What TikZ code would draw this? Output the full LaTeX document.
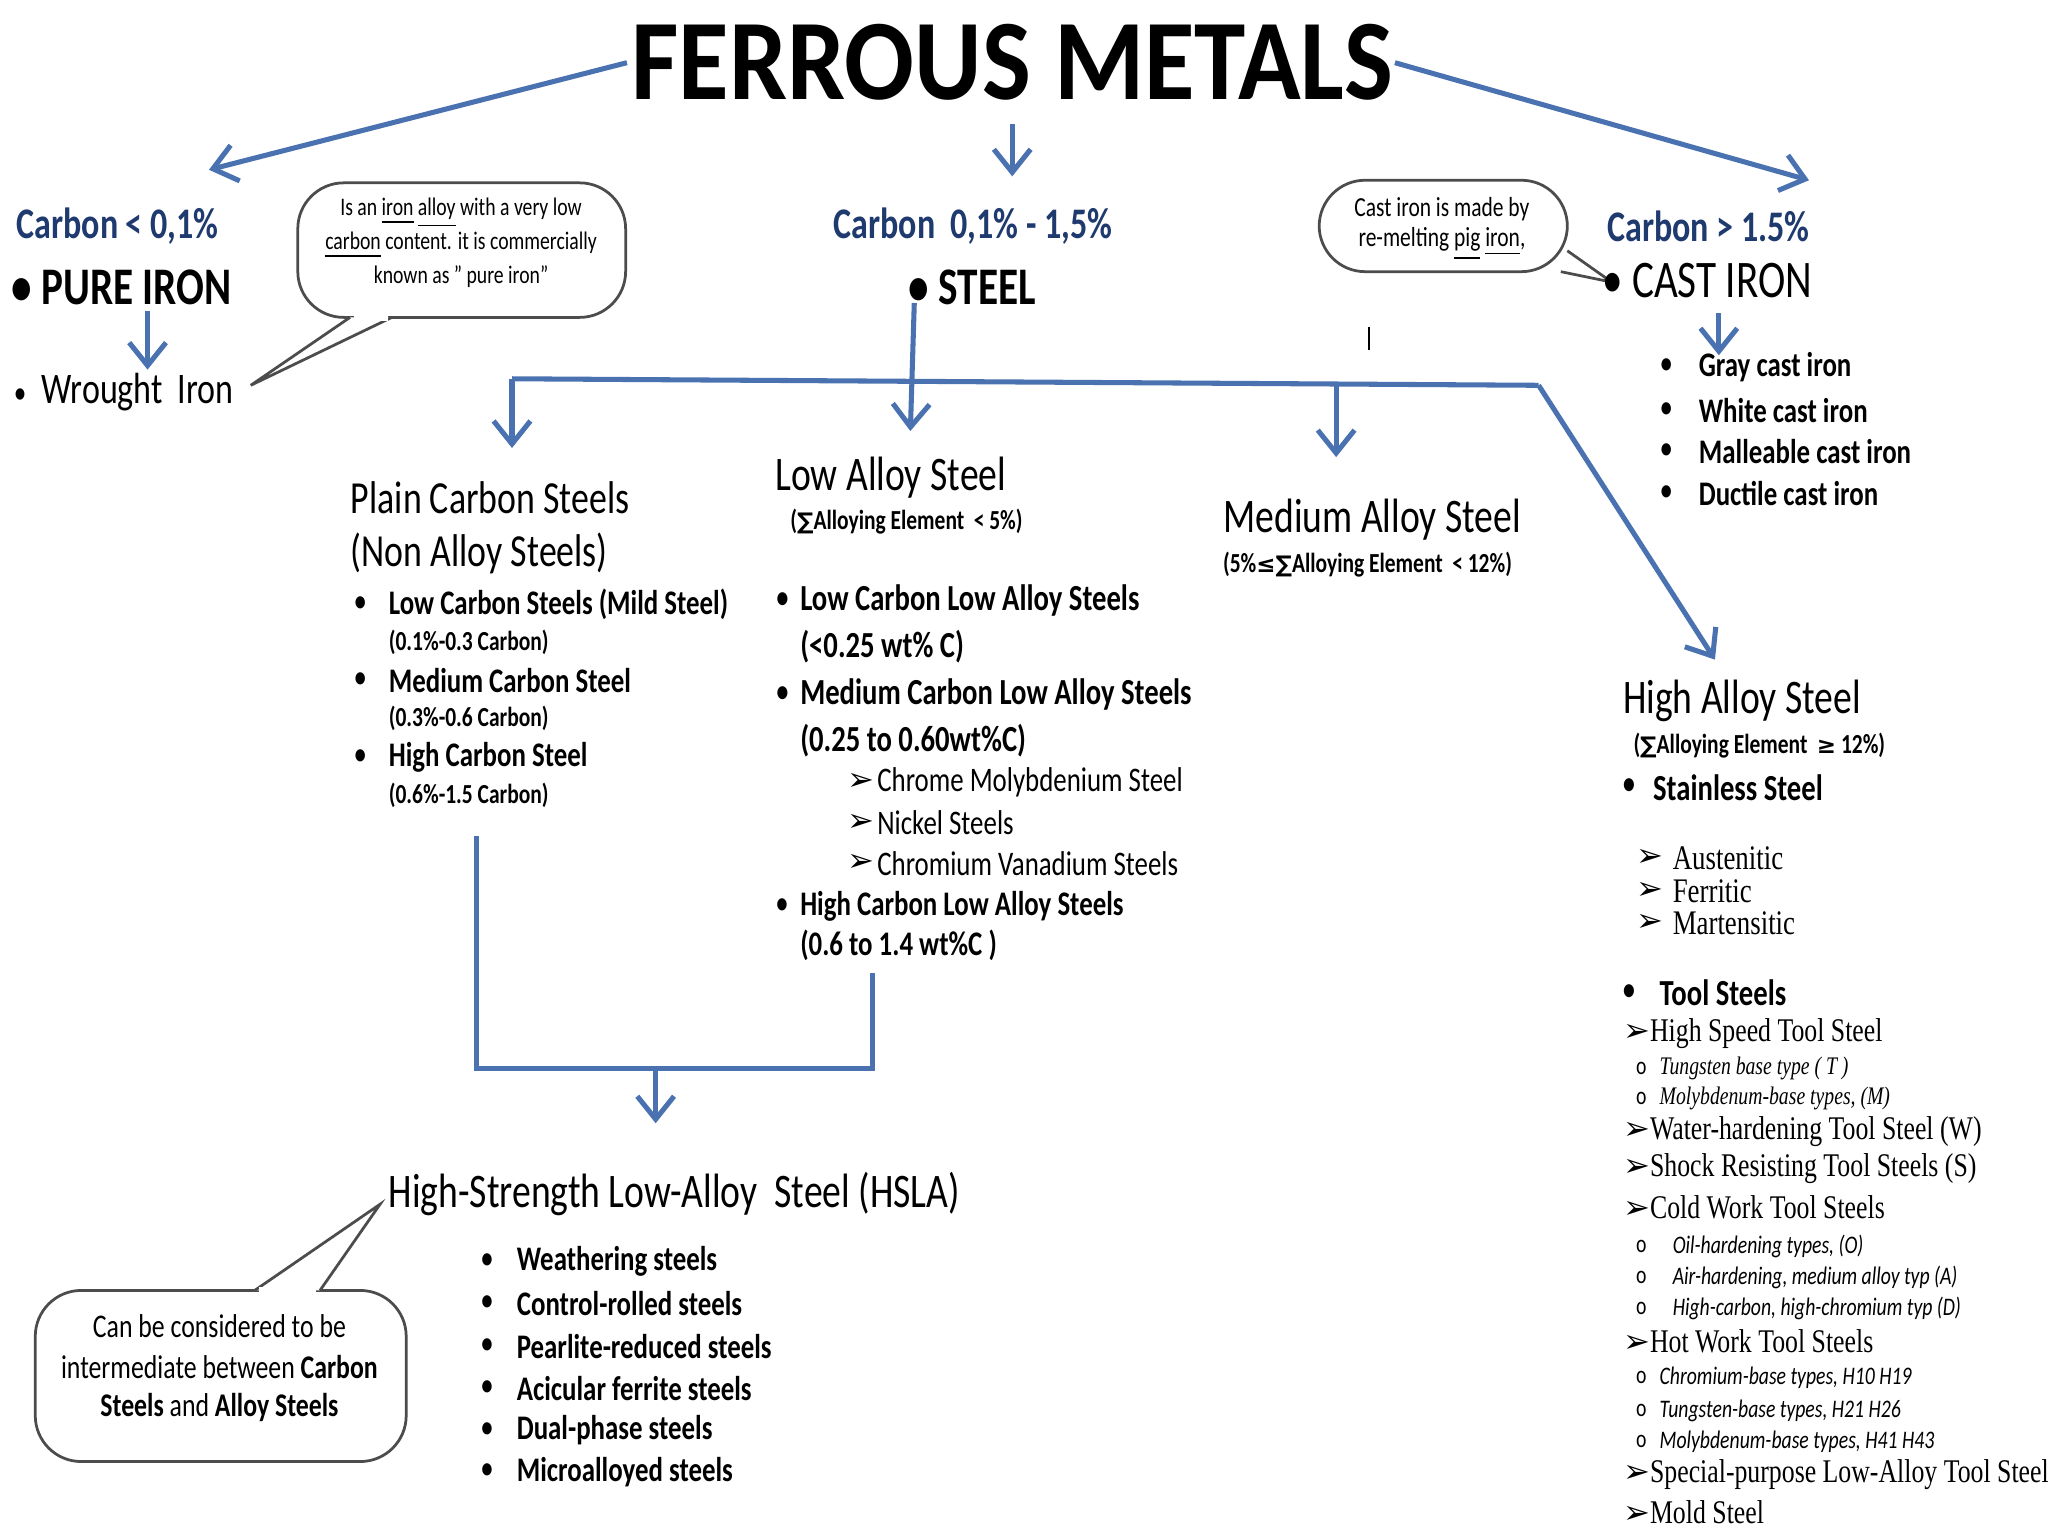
\documentclass[tikz,border=0pt]{standalone}
\usepackage{fontspec}
\setmainfont{Carlito}[FakeStretch=0.78]
\newfontfamily\titlef{Carlito}[FakeStretch=0.9]
\newfontfamily\djv{DejaVu Sans}
\newfontfamily\tms{Liberation Serif}[FakeStretch=0.78]
\newcommand\fz[1]{\fontsize{#1}{#1}\selectfont}
\newcommand\arr{{\djv\fz{7}➢}}
\definecolor{navy}{HTML}{1F3A6E}
\definecolor{ablue}{HTML}{4A72B0}
\tikzset{
 t/.style={anchor=west,inner sep=0pt},
 tc/.style={anchor=center,inner sep=0pt,align=center},
 con/.style={ablue,line width=1.1pt},
 aro/.style={con,-{Straight Barb[length=5pt,width=8pt]}},
 call/.style={draw=black!70,line width=0.6pt,rounded corners=10pt,fill=white},
}
\usetikzlibrary{arrows.meta}
\begin{document}
\begin{tikzpicture}[x=0.01cm,y=-0.01cm]
\useasboundingbox[fill=white] (0,0) rectangle (1568,1176);
% title
\node[tc] (title) at (775,48) {\titlef\fz{25}\bfseries FERROUS METALS};
\coordinate (tl) at (480,48); \coordinate (tr) at (1068,48);
\coordinate (al) at (160,130); \coordinate (ar) at (1385,138);
\coordinate (ct) at (775,95); \coordinate (cb) at (775,135);
\draw[aro] (tl) -- (al);
\draw[aro] (tr) -- (ar);
\draw[aro] (ct) -- (cb);
% pure iron
\node[t,text=navy] (c1) at (12,173) {\fz{9.5}\bfseries Carbon\,< 0,1\%};
\node[t] (pi) at (8,220) {\fz{11.5}\bfseries • PURE IRON};
\node[t] (wi) at (10,300) {\fz{9.5}{\fz{7}•}\, Wrought\, Iron};
\coordinate (p1) at (113,238); \coordinate (p2) at (113,283);
\draw[aro] (p1) -- (p2);
\draw[call] (228,140) rectangle (479,243);
\coordinate (k1) at (268,243); \coordinate (k2) at (192,295); \coordinate (k3) at (300,243);
\filldraw[draw=black!70,line width=0.6pt,fill=white] (k1) -- (k2) -- (k3);
\draw[white,line width=1.5pt] (271,243) -- (297,243);
\node[tc] (q1) at (353,163) {\fz{5.5}Is an \underline{iron} \underline{alloy} with a very low};
\node[tc] (q2) at (353,188) {\fz{5.5}\underline{carbon} content. it is commercially};
\node[tc] (q3) at (353,212) {\fz{5.5}known as " pure iron"};
% steel
\node[tc,text=navy] (c2) at (745,173) {\fz{9.5}\bfseries Carbon\, 0,1\% - 1,5\%};
\node[t] (st) at (695,220) {\fz{11.5}\bfseries • STEEL};
% cast iron
\draw[call] (1010,138) rectangle (1200,208);
\coordinate (m1) at (1195,208); \coordinate (m2) at (1234,216); \coordinate (m3) at (1200,192);
\filldraw[draw=black!70,line width=0.6pt,fill=white] (m3) -- (m2) -- (m1);
\draw[white,line width=1.5pt] (1200,195) -- (1200,205);
\node[tc] (r1) at (1104,160) {\fz{6}Cast iron is made by};
\node[tc] (r2) at (1104,187) {\fz{6}re-melting \underline{pig} \underline{iron},};
\node[t,text=navy] (c3) at (1230,173) {\fz{9.5}\bfseries Carbon\,> 1.5\%};
\node[t] (ci) at (1226,215) {\fz{11.5}• CAST IRON};
\coordinate (i1) at (1316,240); \coordinate (i2) at (1316,272);
\draw[aro] (i1) -- (i2);
\foreach \y/\s [count=\i] in {281/Gray cast iron,314/White cast iron,346/Malleable cast iron,378/Ductile cast iron}{
 \node[t] (cb\i) at (1270,\y) {\fz{7.5}•};
 \node[t] (ct\i) at (1300,\y) {\fz{7.5}\bfseries \s};}
\draw[black,line width=0.5pt] (1048,250) -- (1048,268);
% branches
\coordinate (s1) at (700,232); \coordinate (s2) at (697,330);
\draw[aro] (s1) -- (s2);
\coordinate (h1) at (392,290); \coordinate (h2) at (1178,295); \coordinate (h3) at (1313,505);
\coordinate (h4) at (392,343); \coordinate (h5) at (1023,293); \coordinate (h6) at (1023,350);
\draw[con] (h1) -- (h2);
\draw[aro] (h2) -- (h3);
\draw[aro] (h1) -- (h4);
\draw[aro] (h5) -- (h6);
% plain carbon
\node[t] (pc1) at (268,381) {\fz{10}Plain Carbon Steels};
\node[t] (pc2) at (268,424) {\fz{10}(Non Alloy Steels)};
\foreach \y/\s/\p [count=\i] in {463/Low Carbon Steels (Mild Steel)/(0.1\%-0.3 Carbon),521/Medium Carbon Steel/(0.3\%-0.6 Carbon),580/High Carbon Steel/(0.6\%-1.5 Carbon)}{
 \node[t] (pb\i) at (270,\y) {\fz{7.5}•};
 \node[t] (pt\i) at (297,\y) {\fz{7.5}\bfseries \s};
 \node[t] (pp\i) at (297,\y+29) {\fz{6}\bfseries \p};}
% low alloy
\node[t] (la) at (593,366) {\fz{10.5}Low Alloy Steel};
\node[tc] (la2) at (694,399) {\fz{6}\bfseries ({\djv\fz{5}∑}Alloying Element\, < 5\%)};
\foreach \y/\s [count=\i] in {460/Low Carbon Low Alloy Steels,532/Medium Carbon Low Alloy Steels}{
 \node[t] (lb\i) at (593,\y) {\fz{8}•};
 \node[t] (lt\i) at (612,\y) {\fz{8}\bfseries \s};}
\node[t] (lp1) at (612,495) {\fz{8}\bfseries (<0.25 wt\% C)};
\node[t] (lp2) at (612,567) {\fz{8}\bfseries (0.25 to 0.60wt\%C)};
\foreach \y/\s [count=\i] in {599/Chrome Molybdenium Steel,630/Nickel Steels,661/Chromium Vanadium Steels}{
 \node[t] (la\i) at (648,\y) {\arr};
 \node[t] (lx\i) at (671,\y) {\fz{7.5}\s};}
\node[t] (lb3) at (593,694) {\fz{7.5}•};
\node[t] (lt3) at (612,694) {\fz{7.5}\bfseries High Carbon Low Alloy Steels};
\node[t] (lp3) at (612,724) {\fz{7.5}\bfseries (0.6 to 1.4 wt\%C )};
% medium alloy
\node[t] (ma) at (936,398) {\fz{10.5}Medium Alloy Steel};
\node[tc] (ma2) at (1047,432) {\fz{6}\bfseries (5\%{\djv\fz{5}≤∑}Alloying Element\, < 12\%)};
% high alloy
\node[t] (ha) at (1242,537) {\fz{10.5}High Alloy Steel};
\node[tc] (ha2) at (1347,571) {\fz{6}\bfseries ({\djv\fz{5}∑}Alloying Element\, {\djv\fz{5}≥} 12\%)};
\node[t] (hb1) at (1241,603) {\fz{8}•};
\node[t] (ht1) at (1265,603) {\fz{8}\bfseries Stainless Steel};
\foreach \y/\s [count=\i] in {657/Austenitic,682/Ferritic,707/Martensitic}{
 \node[t] (ha\i) at (1252,\y) {\arr};
 \node[t] (hx\i) at (1280,\y) {\tms\fz{7.5}\s};}
\node[t] (hb2) at (1241,760) {\fz{8}•};
\node[t] (ht2) at (1270,760) {\fz{8}\bfseries Tool Steels};
\foreach \y/\s [count=\i] in {791/High Speed Tool Steel,866/Water-hardening Tool Steel (W),895/Shock Resisting Tool Steels (S),924/Cold Work Tool Steels,1027/Hot Work Tool Steels,1129/Special-purpose Low-Alloy Tool Steel,1158/Mold Steel}{
 \node[t] (tt\i) at (1242,\y) {\arr{\tms\fz{7.2}\s}};}
\foreach \y/\s/\xx [count=\i] in {818/Tungsten base type ( T )/1270,841/{Molybdenum-base types, (M)}/1270}{
 \node[t] (oa\i) at (1252,\y) {\fz{5.5}o};
 \node[t] (ob\i) at (\xx,\y) {\tms\itshape\fz{5.5}\s};}
\foreach \y/\s/\xx [count=\i] in {954/{Oil-hardening types, (O)}/1280,978/{Air-hardening, medium alloy typ (A)}/1280,1002/{High-carbon, high-chromium typ (D)}/1280,1055/{Chromium-base types, H10 H19}/1270,1080/{Tungsten-base types, H21 H26}/1270,1104/{Molybdenum-base types, H41 H43}/1270}{
 \node[t] (oc\i) at (1252,\y) {\fz{5.5}o};
 \node[t] (od\i) at (\xx,\y) {\itshape\fz{5.5}\s};}
% HSLA bracket
\coordinate (b1) at (365,640); \coordinate (b2) at (365,818); \coordinate (b3) at (668,818);
\coordinate (b4) at (668,745); \coordinate (b5) at (502,818); \coordinate (b6) at (502,860);
\draw[con] (b1) -- (b2) -- (b3) -- (b4);
\draw[aro] (b5) -- (b6);
\node[t] (hs) at (297,914) {\fz{10.5}High-Strength Low-Alloy\ \ Steel (HSLA)};
\foreach \y/\s [count=\i] in {966/Weathering steels,998/Control-rolled steels,1031/Pearlite-reduced steels,1063/Acicular ferrite steels,1095/Dual-phase steels,1127/Microalloyed steels}{
 \node[t] (sb\i) at (367,\y) {\fz{7.5}•};
 \node[t] (sx\i) at (395,\y) {\fz{7.5}\bfseries \s};}
\draw[call] (27,988) rectangle (311,1119);
\coordinate (n1) at (195,988); \coordinate (n2) at (291,922); \coordinate (n3) at (245,988);
\filldraw[draw=black!70,line width=0.6pt,fill=white] (n1) -- (n2) -- (n3);
\draw[white,line width=1.5pt] (198,988) -- (242,988);
\node[tc] (u1) at (168,1015) {\fz{7.2}Can be considered to be};
\node[tc] (u2) at (168,1047) {\fz{7.2}intermediate between \textbf{Carbon}};
\node[tc] (u3) at (168,1078) {\fz{7.2}\textbf{Steels} and \textbf{Alloy Steels}};
\end{tikzpicture}
\end{document}
